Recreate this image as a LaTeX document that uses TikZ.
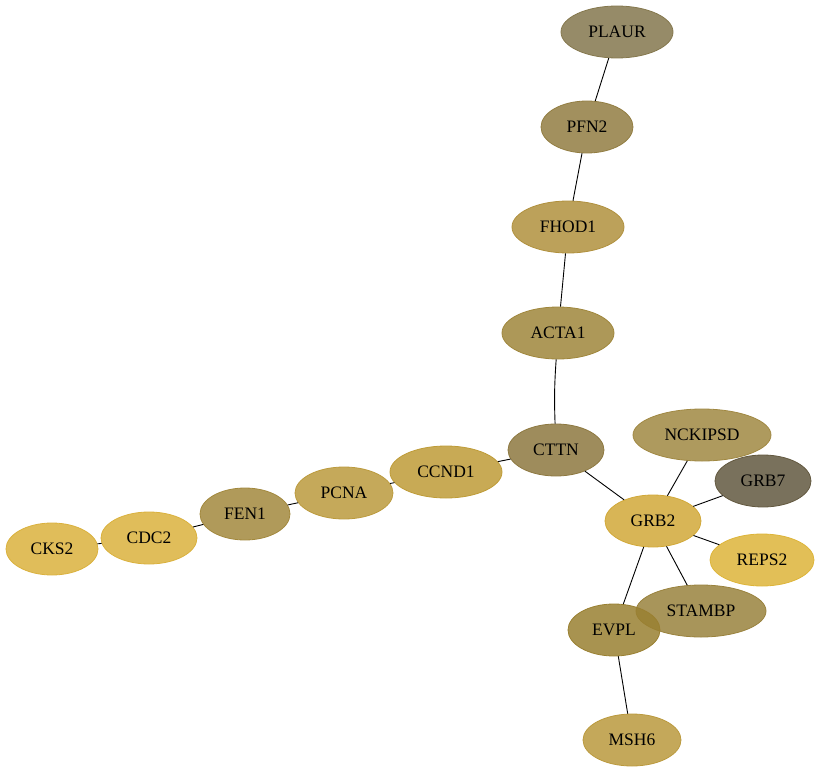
\documentclass[tikz,border=0pt]{standalone}
\usepackage{fontspec}
\setmainfont{Liberation Serif}
\usepackage{tikz}
\usetikzlibrary{shapes,positioning}

\definecolor{cPLAUR}{HTML}{84774D}
\definecolor{cPFN2}{HTML}{927D42}
\definecolor{cFHOD1}{HTML}{B0903D}
\definecolor{cACTA1}{HTML}{9F863B}
\definecolor{cCTTN}{HTML}{8D7840}
\definecolor{cCCND1}{HTML}{BE9B37}
\definecolor{cPCNA}{HTML}{BB9A3D}
\definecolor{cFEN1}{HTML}{A2883D}
\definecolor{cCDC2}{HTML}{DAB13D}
\definecolor{cCKS2}{HTML}{DAB13D}
\definecolor{cGRB2}{HTML}{D1A838}
\definecolor{cNCKIPSD}{HTML}{A08842}
\definecolor{cGRB7}{HTML}{62583F}
\definecolor{cREPS2}{HTML}{DDB439}
\definecolor{cSTAMBP}{HTML}{99823D}
\definecolor{cEVPL}{HTML}{998031}
\definecolor{cMSH6}{HTML}{BA993D}

\tikzset{gene/.style={ellipse, line width=0.8pt, fill opacity=0.85, text opacity=1,
  minimum height=52pt, inner sep=0pt, font=\fontsize{17.5}{20}\selectfont}}

\begin{document}
\begin{tikzpicture}[x=1pt, y=-1pt]
  \useasboundingbox (0,0) rectangle (821,773);

  % Genes
  \foreach \n/\x/\y/\w in {PLAUR/617/32/112, PFN2/587/127/92, FHOD1/568/227/112,
      ACTA1/558/333/112, CTTN/556/450/96, CCND1/446/472/112, PCNA/344/493/98,
      FEN1/245/514/90, CDC2/149/538/96, CKS2/52/549/92, GRB2/653/521/96,
      NCKIPSD/702/435/138, GRB7/763/481/96, REPS2/762/560/104,
      STAMBP/701/611/130, EVPL/614/630/92, MSH6/632/740/98}
    \node[gene, draw=c\n, fill=c\n, minimum width=\w pt] (\n) at (\x, \y) {\n};

  % Interactions
  \foreach \a/\b in {PLAUR/PFN2, PFN2/FHOD1, FHOD1/ACTA1, CTTN/CCND1,
      CCND1/PCNA, PCNA/FEN1, FEN1/CDC2, CDC2/CKS2, CTTN/GRB2, GRB2/NCKIPSD,
      GRB2/GRB7, GRB2/REPS2, GRB2/STAMBP, GRB2/EVPL, EVPL/MSH6}
    \draw[line width=0.9pt] (\a) -- (\b);
  \draw[line width=0.9pt] (ACTA1) to[bend right=3] (CTTN);

\end{tikzpicture}
\end{document}
